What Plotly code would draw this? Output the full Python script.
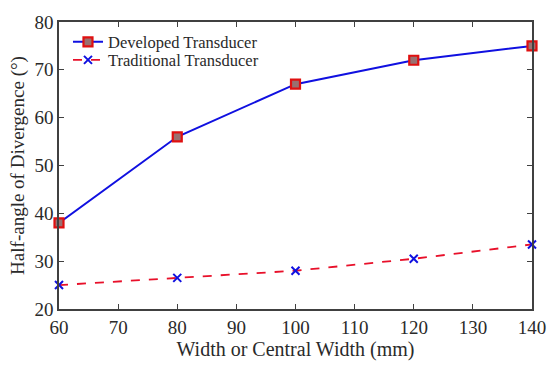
import plotly.graph_objects as go

widths = [60, 80, 100, 120, 140]
developed = [38, 56, 67, 72, 75]
traditional = [25, 26.5, 28, 30.5, 33.5]

serif = "'Times New Roman', Times, 'Liberation Serif', 'DejaVu Serif', serif"
axis_color = "#404040"
text_color = "#2a2a2a"

fig = go.Figure()
fig.add_trace(go.Scatter(
    x=widths, y=developed, name="Developed Transducer",
    mode="lines+markers",
    line=dict(color="#1010e0", width=2),
    marker=dict(symbol="square", size=9, color="#9a7070",
                line=dict(color="#e01010", width=2.2)),
    cliponaxis=False, legend="legend",
))
fig.add_trace(go.Scatter(
    x=widths, y=traditional, name="Traditional Transducer",
    mode="lines+markers",
    line=dict(color="#e8102a", width=1.8, dash="dash"),
    marker=dict(symbol="x-thin", size=8, color="#1010e0",
                line=dict(color="#1010e0", width=2)),
    cliponaxis=False, legend="legend2",
))

axis_common = dict(
    showline=True, mirror="ticks", linecolor=axis_color, linewidth=1.5,
    ticks="inside", ticklen=5, tickcolor=axis_color, tickwidth=1,
    showgrid=False, zeroline=False,
    tickfont=dict(family=serif, size=19, color=text_color),
)

legend_common = dict(
    xanchor="left", yanchor="middle",
    bgcolor="rgba(0,0,0,0)", borderwidth=0,
    font=dict(family=serif, size=16.5, color=text_color),
    itemwidth=30,
)

fig.update_layout(
    width=558, height=367,
    font=dict(family=serif),
    margin=dict(l=59, r=23, t=15, b=53),
    paper_bgcolor="white", plot_bgcolor="white",
    xaxis=dict(range=[60, 140], dtick=10,
               title=dict(text="Width or Central Width (mm)",
                          font=dict(family=serif, size=20, color=text_color),
                          standoff=3),
               **axis_common),
    yaxis=dict(range=[20, 80], dtick=10,
               title=dict(text="Half-angle of Divergence (°)",
                          font=dict(family=serif, size=19, color=text_color),
                          standoff=5),
               **axis_common),
    legend=dict(x=0.019, y=0.930, **legend_common),
    legend2=dict(x=0.019, y=0.867, **legend_common),
    showlegend=True,
)

fig.write_html("out.html")
